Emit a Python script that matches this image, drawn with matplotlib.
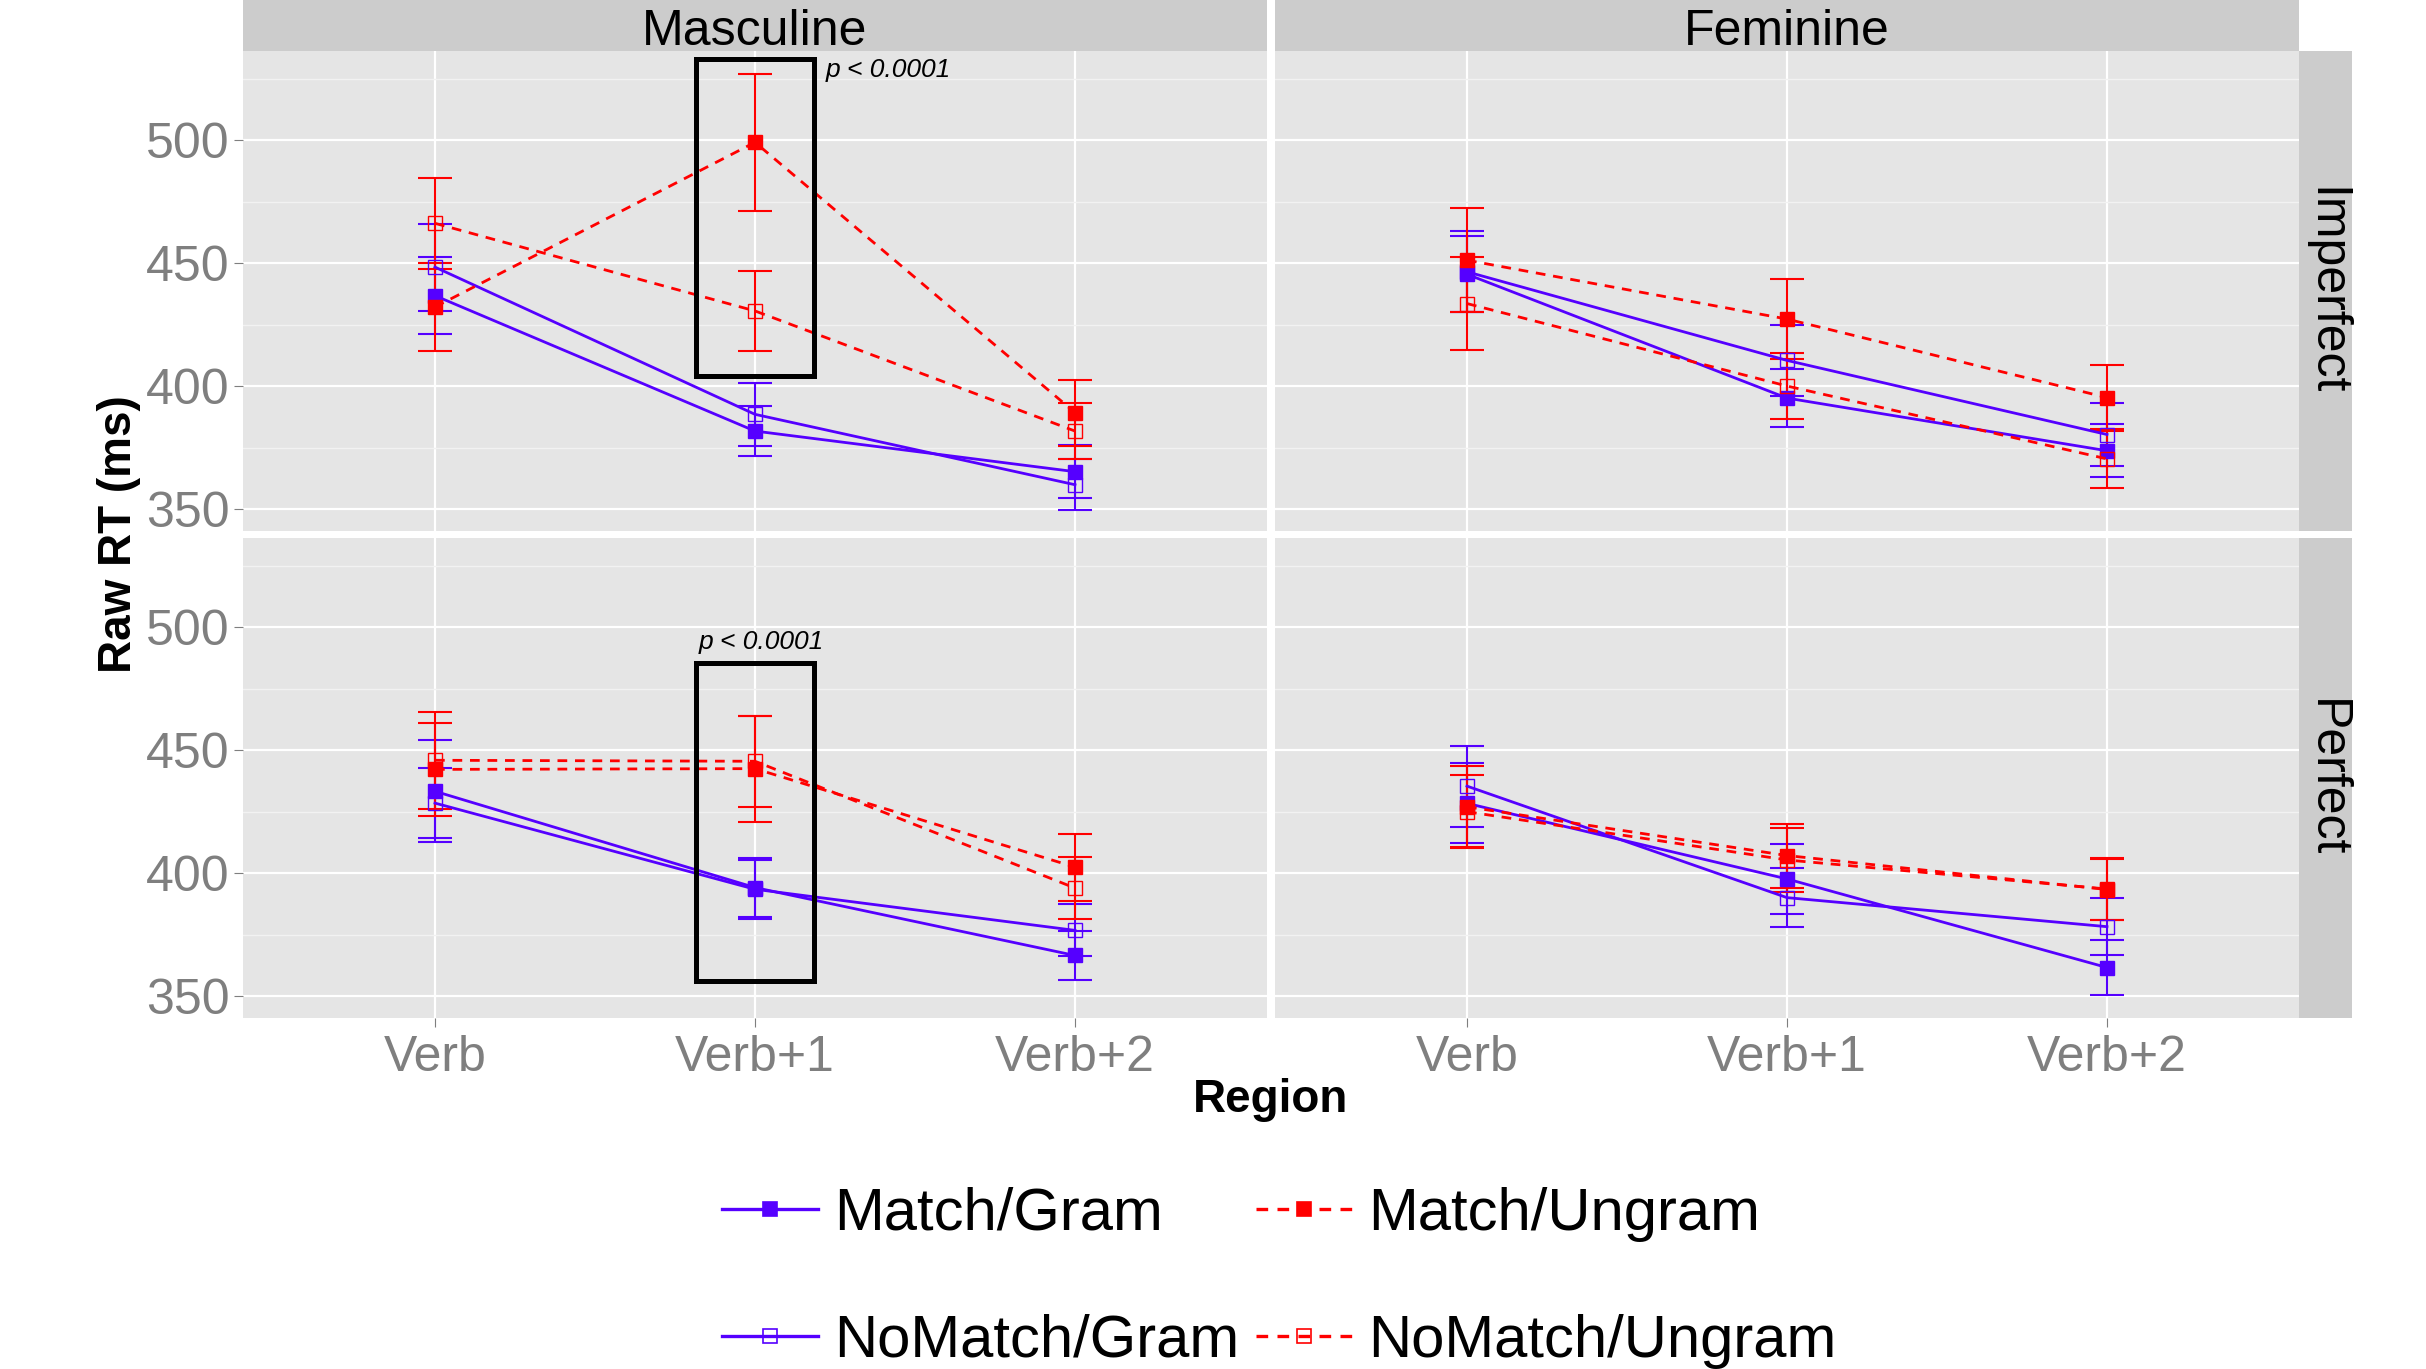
import matplotlib
matplotlib.use('Agg')
import matplotlib.pyplot as plt
from matplotlib.lines import Line2D
from matplotlib.patches import Rectangle
from matplotlib.ticker import FixedLocator

plt.rcParams['font.family'] = ['Liberation Sans', 'DejaVu Sans']

regions = ['Verb', 'Verb+1', 'Verb+2']
genders = ['Masculine', 'Feminine']
aspects = ['Imperfect', 'Perfect']

# mean raw RT per panel (masc/imp, fem/imp, masc/perf, fem/perf) x region
match_gram = [[436.8, 381.8, 365.3], [445.5, 395.2, 373.8],
              [433.3, 394.2, 366.6], [428.4, 397.7, 361.7]]
match_gram_se = [[15.7, 10.0, 10.7], [15.5, 11.9, 10.7],
                 [20.7, 12.0, 10.0], [16.2, 14.1, 11.0]]

nomatch_gram = [[448.4, 388.6, 360.0], [446.5, 410.5, 380.4],
                [428.5, 393.5, 376.8], [435.4, 390.1, 378.3]]
nomatch_gram_se = [[17.7, 12.7, 10.4], [16.5, 14.5, 12.6],
                   [14.3, 12.0, 10.6], [16.5, 11.9, 11.7]]

match_ungram = [[432.2, 499.1, 389.3], [451.2, 427.3, 395.4],
                [442.2, 442.5, 402.5], [427.0, 407.2, 393.4]]
match_ungram_se = [[18.0, 27.9, 13.4], [21.1, 16.2, 13.4],
                   [19.0, 21.5, 13.6], [16.5, 13.0, 12.4]]

nomatch_ungram = [[466.2, 430.6, 381.8], [433.6, 400.1, 370.5],
                  [445.9, 445.5, 394.0], [425.0, 405.4, 393.6]]
nomatch_ungram_se = [[18.6, 16.2, 11.4], [18.9, 13.4, 12.0],
                     [19.7, 18.5, 12.7], [14.8, 13.0, 12.4]]

conditions = ['Match/Gram', 'NoMatch/Gram', 'Match/Ungram', 'NoMatch/Ungram']
means = [match_gram, nomatch_gram, match_ungram, nomatch_ungram]
errs = [match_gram_se, nomatch_gram_se, match_ungram_se, nomatch_ungram_se]

y_ticks = [350, 400, 450, 500]
y_minor = [375, 425, 475, 525]

# boxed region in the masculine panels (ymin, ymax) and p-value labels
box_ranges = [(404.2, 532.8), (356.2, 485.3)]
p_label = 'p < 0.0001'

BLUE = '#5500FF'
RED = '#FF0000'
colors = [BLUE, BLUE, RED, RED]
styles = ['-', '-', (0, (3.5, 2.8)), (0, (3.5, 2.8))]
filled = [True, False, True, False]

W, H = 2426, 1369
fig = plt.figure(figsize=(W / 100, H / 100), dpi=100)


def box(x0, y0, x1, y1):
    return [x0 / W, 1 - y1 / H, (x1 - x0) / W, (y1 - y0) / H]


col_x = [(243, 1267), (1275, 2299)]
row_y = [(51, 531), (538, 1018)]
x = [1, 2, 3]

for r, aspect in enumerate(aspects):
    for c, gender in enumerate(genders):
        p = r * 2 + c
        ax = fig.add_axes(box(col_x[c][0], row_y[r][0], col_x[c][1], row_y[r][1]))
        ax.set_facecolor('#E5E5E5')
        for s in ax.spines.values():
            s.set_visible(False)
        ax.set_xlim(0.4, 3.6)
        ax.set_ylim(341.2, 536.2)
        ax.set_yticks(y_ticks)
        ax.set_yticks(y_minor, minor=True)
        ax.set_xticks(x)
        ax.grid(which='major', color='white', lw=1.6, zorder=0)
        ax.grid(which='minor', axis='y', color='#F2F2F2', lw=1.0, zorder=0)
        ax.set_axisbelow(True)
        ax.tick_params(which='minor', length=0)
        ax.tick_params(which='major', length=6.5, width=0.8, color='#7F7F7F',
                       labelcolor='#7F7F7F', labelsize=36, pad=3)
        if c != 0:
            ax.tick_params(axis='y', length=0, labelleft=False)
        if r == 1:
            ax.set_xticklabels(regions)
            ax.tick_params(axis='x', pad=6)
        else:
            ax.tick_params(axis='x', length=0, labelbottom=False)

        for k in range(4):
            ax.errorbar(x, means[k][p], yerr=errs[k][p], color=colors[k],
                        ls='none', elinewidth=1.5, capsize=12, capthick=1.5, zorder=3)
            ax.plot(x, means[k][p], color=colors[k], ls=styles[k], lw=2.0,
                    marker='s', ms=9.5,
                    mfc=colors[k] if filled[k] else 'none',
                    mec=colors[k], mew=1.0, zorder=4)

        if c == 0:
            y0, y1 = box_ranges[r]
            ax.add_patch(Rectangle((1.815, y0), 0.37, y1 - y0, fill=False,
                                   ec='black', lw=3.6, zorder=5))
            if r == 0:
                ax.text(2.22, 525.8, p_label, style='italic', fontsize=19,
                        ha='left', va='baseline', zorder=6)
            else:
                ax.text(2.02, 491.2, p_label, style='italic', fontsize=19,
                        ha='center', va='baseline', zorder=6)

        # facet strips
        if r == 0:
            sx = fig.add_axes(box(col_x[c][0], -10, col_x[c][1], 51))
            sx.set_facecolor('#CCCCCC')
            sx.set_xticks([])
            sx.set_yticks([])
            for s in sx.spines.values():
                s.set_visible(False)
            fig.text((col_x[c][0] + col_x[c][1]) / 2 / W, 1 - 45 / H, gender,
                     fontsize=36, ha='center', va='baseline')
        if c == 1:
            sy = fig.add_axes(box(2299, row_y[r][0], 2352, row_y[r][1]))
            sy.set_facecolor('#CCCCCC')
            sy.set_xticks([])
            sy.set_yticks([])
            for s in sy.spines.values():
                s.set_visible(False)
            sy.text(0.5, 0.5, aspect, rotation=270, fontsize=36,
                    ha='center', va='center', transform=sy.transAxes)

fig.text(1271 / W, 1 - 1100 / H, 'Region', fontsize=33, fontweight='bold',
         ha='center', va='center')
fig.text(119 / W, 1 - 534 / H, 'Raw RT (ms)', fontsize=33, fontweight='bold',
         rotation=90, ha='center', va='center')

handles = []
for k in range(4):
    handles.append(Line2D([], [], color=colors[k], ls=styles[k], lw=2.4,
                          marker='s', ms=9.5,
                          mfc=colors[k] if filled[k] else 'none',
                          mec=colors[k], mew=1.2))
fig.legend(handles, conditions, ncol=2, frameon=False, fontsize=43,
           loc='upper left', bbox_to_anchor=(722 / W, 1 - 1187 / H),
           borderaxespad=0, borderpad=0, handlelength=1.6, handletextpad=0.28,
           columnspacing=0.28, labelspacing=1.2)

fig.savefig('out.png', dpi=100)
